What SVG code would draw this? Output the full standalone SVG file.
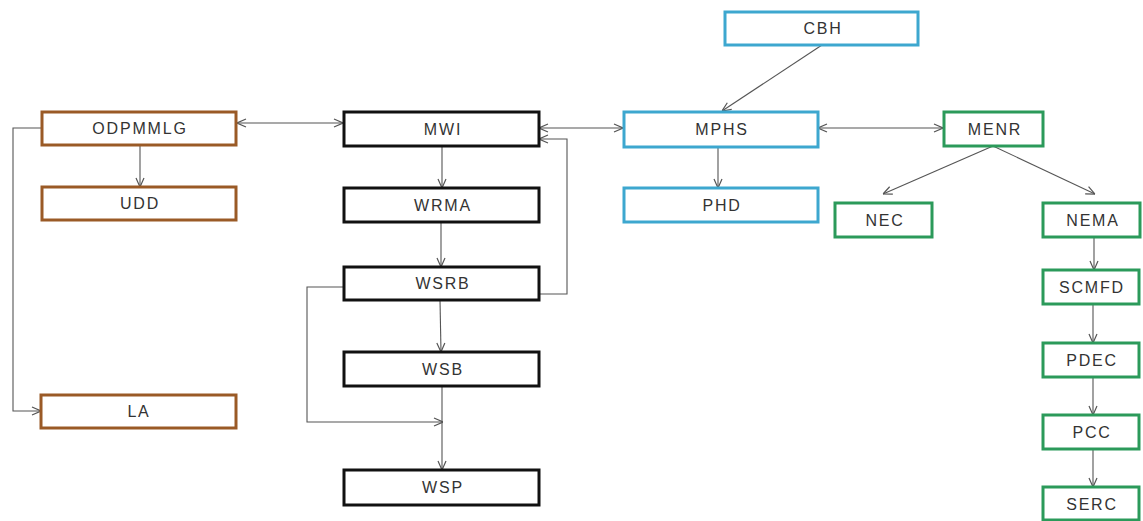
<svg xmlns="http://www.w3.org/2000/svg" width="1143" height="521" viewBox="0 0 1143 521">
<defs>
<marker id="arr" viewBox="0 0 10 10" refX="10" refY="5" markerWidth="10" markerHeight="10" markerUnits="userSpaceOnUse" orient="auto-start-reverse">
<path d="M1,1 L10,5 L1,9" fill="none" stroke="#555" stroke-width="1.2"/>
</marker>
<style>
rect{fill:#fff;stroke-width:3}
.br rect{stroke:#9a5a26}
.bk rect{stroke:#111}
.bl rect{stroke:#3da7cf}
.gr rect{stroke:#2b9a5a}
text{font-family:"Liberation Sans",Arial,sans-serif;font-size:16px;fill:#333;text-anchor:middle;letter-spacing:1.8px}
#connectors path{fill:none;stroke:#555;stroke-width:1.1}
</style>
</defs>
<rect x="0" y="0" width="1143" height="521" style="fill:#fff;stroke:none"/>
<g id="connectors">
<path d="M237,123 L343,123" marker-start="url(#arr)" marker-end="url(#arr)"/>
<path d="M140,145 L140,187" marker-end="url(#arr)"/>
<path d="M42,128 L13,128 L13,411 L41,411" marker-end="url(#arr)"/>
<path d="M539,128 L623,128" marker-start="url(#arr)" marker-end="url(#arr)"/>
<path d="M539,294 L567,294 L567,139 L539,139" marker-end="url(#arr)"/>
<path d="M442,146 L442,188" marker-end="url(#arr)"/>
<path d="M441,222 L441,267" marker-end="url(#arr)"/>
<path d="M440,300 L441,352" marker-end="url(#arr)"/>
<path d="M442,386 L442,470" marker-end="url(#arr)"/>
<path d="M343,287 L307,287 L307,422 L443,422" marker-end="url(#arr)"/>
<path d="M822,45 L722,111" marker-end="url(#arr)"/>
<path d="M718,147 L718,188" marker-end="url(#arr)"/>
<path d="M818,128 L943,128" marker-start="url(#arr)" marker-end="url(#arr)"/>
<path d="M993,146 L883,194" marker-end="url(#arr)"/>
<path d="M993,146 L1095,194" marker-end="url(#arr)"/>
<path d="M1094,237 L1094,270" marker-end="url(#arr)"/>
<path d="M1093,304 L1093,343" marker-end="url(#arr)"/>
<path d="M1093,377 L1093,415" marker-end="url(#arr)"/>
<path d="M1093,449 L1093,487" marker-end="url(#arr)"/>
</g>
<g id="ODPMMLG" class="br"><rect x="42" y="112" width="194" height="33"/><text x="140" y="134">ODPMMLG</text></g>
<g id="UDD" class="br"><rect x="42" y="187" width="194" height="33"/><text x="140" y="209">UDD</text></g>
<g id="LA" class="br"><rect x="41" y="395" width="195" height="33"/><text x="139" y="417">LA</text></g>
<g id="MWI" class="bk"><rect x="344" y="112" width="195" height="34"/><text x="443" y="135">MWI</text></g>
<g id="WRMA" class="bk"><rect x="344" y="188" width="195" height="34"/><text x="443" y="211">WRMA</text></g>
<g id="WSRB" class="bk"><rect x="344" y="267" width="195" height="33"/><text x="443" y="289">WSRB</text></g>
<g id="WSB" class="bk"><rect x="344" y="352" width="195" height="34"/><text x="443" y="375">WSB</text></g>
<g id="WSP" class="bk"><rect x="344" y="470" width="195" height="35"/><text x="443" y="493">WSP</text></g>
<g id="CBH" class="bl"><rect x="725" y="12" width="193" height="33"/><text x="823" y="34">CBH</text></g>
<g id="MPHS" class="bl"><rect x="624" y="112" width="194" height="35"/><text x="722" y="135">MPHS</text></g>
<g id="PHD" class="bl"><rect x="624" y="188" width="194" height="34"/><text x="722" y="211">PHD</text></g>
<g id="MENR" class="gr"><rect x="944" y="112" width="99" height="34"/><text x="995" y="135">MENR</text></g>
<g id="NEC" class="gr"><rect x="835" y="203" width="97" height="34"/><text x="885" y="226">NEC</text></g>
<g id="NEMA" class="gr"><rect x="1043" y="203" width="97" height="34"/><text x="1093" y="226">NEMA</text></g>
<g id="SCMFD" class="gr"><rect x="1043" y="270" width="96" height="34"/><text x="1092" y="293">SCMFD</text></g>
<g id="PDEC" class="gr"><rect x="1043" y="343" width="96" height="34"/><text x="1092" y="366">PDEC</text></g>
<g id="PCC" class="gr"><rect x="1043" y="415" width="96" height="34"/><text x="1092" y="438">PCC</text></g>
<g id="SERC" class="gr"><rect x="1043" y="487" width="96" height="33"/><text x="1092" y="510">SERC</text></g>
</svg>
